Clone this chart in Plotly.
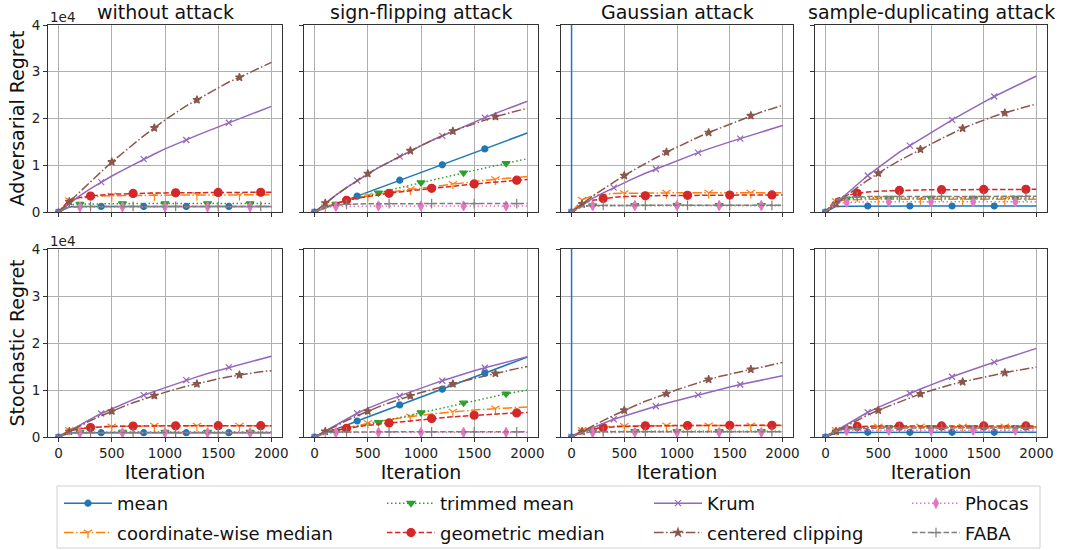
import plotly.graph_objects as go
from plotly.subplots import make_subplots

iterations = list(range(0, 2001, 100))
attacks = ["without attack", "sign-flipping attack", "Gaussian attack", "sample-duplicating attack"]
row_titles = ["Adversarial Regret", "Stochastic Regret"]
x_ticks = [0, 500, 1000, 1500, 2000]
y_ticks = [0, 10000, 20000, 30000, 40000]
y_tick_text = ["0", "1", "2", "3", "4"]
method_names = ["mean", "coordinate-wise median", "trimmed mean", "geometric median",
                "Krum", "centered clipping", "Phocas", "FABA"]

# ---------------- adversarial regret ----------------
adv_none_mean = [0, 1100, 1150, 1180, 1200, 1200, 1200, 1200, 1200, 1200, 1200, 1200, 1200, 1200, 1200, 1200, 1200, 1200, 1200, 1200, 1200]
adv_none_cwm = [0, 2500, 3000, 3250, 3400, 3480, 3530, 3560, 3580, 3600, 3610, 3620, 3630, 3640, 3650, 3650, 3660, 3660, 3670, 3670, 3680]
adv_none_trim = [0, 1500, 1700, 1750, 1780, 1790, 1800, 1800, 1800, 1800, 1800, 1800, 1800, 1800, 1800, 1800, 1800, 1800, 1800, 1800, 1800]
adv_none_geo = [0, 2600, 3100, 3400, 3650, 3800, 3900, 3980, 4020, 4060, 4090, 4110, 4130, 4150, 4160, 4180, 4190, 4200, 4210, 4220, 4230]
adv_none_krum = [0, 1800, 3500, 5000, 6400, 7700, 8900, 10100, 11300, 12400, 13500, 14500, 15400, 16400, 17300, 18200, 19100, 20000, 20900, 21800, 22600]
adv_none_cc = [0, 2200, 4400, 6500, 8600, 10700, 12600, 14500, 16300, 18000, 19700, 21200, 22700, 24000, 25300, 26600, 27800, 28800, 29900, 31000, 32000]
adv_none_phocas = [0, 1000, 1080, 1100, 1100, 1100, 1100, 1100, 1100, 1100, 1100, 1100, 1100, 1100, 1100, 1100, 1100, 1100, 1100, 1100, 1100]
adv_none_faba = [0, 1050, 1150, 1180, 1200, 1200, 1200, 1200, 1200, 1200, 1200, 1200, 1200, 1200, 1200, 1200, 1200, 1200, 1200, 1200, 1200]

adv_sign_mean = [0, 900, 1750, 2600, 3400, 4250, 5100, 5950, 6800, 7650, 8450, 9300, 10100, 10950, 11800, 12650, 13500, 14350, 15200, 16050, 16900]
adv_sign_cwm = [0, 1000, 1800, 2500, 3000, 3450, 3850, 4200, 4550, 4850, 5150, 5450, 5750, 6000, 6250, 6500, 6750, 7000, 7200, 7400, 7600]
adv_sign_trim = [0, 900, 1700, 2400, 3000, 3550, 4100, 4650, 5200, 5750, 6300, 6850, 7400, 7900, 8400, 8900, 9400, 9900, 10400, 10900, 11400]
adv_sign_geo = [0, 1000, 1800, 2500, 2950, 3350, 3700, 4000, 4300, 4560, 4820, 5070, 5300, 5540, 5770, 6000, 6200, 6400, 6600, 6800, 6950]
adv_sign_krum = [0, 1900, 3600, 5200, 6700, 8100, 9500, 10700, 11900, 13100, 14200, 15300, 16300, 17300, 18300, 19300, 20200, 21100, 22000, 22900, 23700]
adv_sign_cc = [0, 1900, 3600, 5200, 6700, 8200, 9500, 10700, 11900, 13100, 14200, 15300, 16300, 17300, 18100, 18900, 19700, 20400, 21000, 21600, 22200]
adv_sign_phocas = [0, 1000, 1200, 1250, 1300, 1300, 1300, 1300, 1300, 1300, 1300, 1300, 1300, 1300, 1300, 1300, 1300, 1300, 1300, 1300, 1300]
adv_sign_faba = [0, 1200, 1500, 1650, 1700, 1750, 1780, 1800, 1800, 1800, 1800, 1800, 1800, 1800, 1800, 1800, 1800, 1800, 1800, 1800, 1800]

adv_gauss_mean = [0, 2.1e7, 4.2e7, 6.3e7, 8.4e7, 1.05e8, 1.26e8, 1.47e8, 1.68e8, 1.89e8, 2.1e8, 2.31e8, 2.52e8, 2.73e8, 2.94e8, 3.15e8, 3.36e8, 3.57e8, 3.78e8, 3.99e8, 4.2e8]
adv_gauss_cwm = [0, 2600, 3500, 3800, 3950, 4000, 4050, 4080, 4100, 4100, 4100, 4100, 4100, 4100, 4100, 4100, 4100, 4100, 4100, 4100, 4100]
adv_gauss_trim = [0, 1200, 1350, 1400, 1400, 1400, 1400, 1400, 1400, 1400, 1400, 1400, 1400, 1400, 1400, 1400, 1400, 1400, 1400, 1400, 1400]
adv_gauss_geo = [0, 1800, 2500, 2900, 3150, 3300, 3400, 3450, 3500, 3520, 3550, 3570, 3580, 3590, 3600, 3610, 3620, 3630, 3640, 3650, 3650]
adv_gauss_krum = [0, 1500, 2900, 4100, 5200, 6300, 7300, 8300, 9200, 10100, 11000, 11850, 12700, 13500, 14300, 15000, 15700, 16400, 17100, 17800, 18500]
adv_gauss_cc = [0, 1700, 3400, 4900, 6400, 7800, 9100, 10400, 11600, 12800, 13900, 15000, 16000, 17000, 17900, 18800, 19700, 20600, 21400, 22100, 22800]
adv_gauss_phocas = [0, 1150, 1350, 1400, 1400, 1400, 1400, 1400, 1400, 1400, 1400, 1400, 1400, 1400, 1400, 1400, 1400, 1400, 1400, 1400, 1400]
adv_gauss_faba = [0, 1200, 1380, 1420, 1430, 1430, 1430, 1430, 1430, 1430, 1430, 1430, 1430, 1430, 1430, 1430, 1430, 1430, 1430, 1430, 1430]

adv_dup_mean = [0, 1200, 1250, 1270, 1280, 1280, 1280, 1280, 1280, 1280, 1280, 1280, 1280, 1280, 1280, 1280, 1280, 1280, 1280, 1280, 1280]
adv_dup_cwm = [0, 2300, 2600, 2700, 2750, 2750, 2750, 2750, 2750, 2750, 2750, 2750, 2750, 2750, 2750, 2750, 2750, 2750, 2750, 2750, 2750]
adv_dup_trim = [0, 2400, 2800, 2950, 3000, 3000, 3000, 3000, 3000, 3000, 3000, 3000, 3000, 3000, 3000, 3000, 3000, 3000, 3000, 3000, 3000]
adv_dup_geo = [0, 2800, 3600, 4000, 4300, 4450, 4550, 4620, 4680, 4720, 4750, 4770, 4790, 4800, 4810, 4820, 4830, 4840, 4840, 4850, 4850]
adv_dup_krum = [0, 2000, 4000, 5900, 7800, 9500, 11200, 12800, 14200, 15600, 17000, 18400, 19700, 21000, 22300, 23500, 24700, 25800, 26900, 28000, 29100]
adv_dup_cc = [0, 1800, 3600, 5200, 6800, 8300, 9700, 11000, 12200, 13400, 14600, 15700, 16800, 17900, 18800, 19700, 20500, 21200, 21900, 22500, 23100]
adv_dup_phocas = [0, 1800, 2050, 2150, 2200, 2200, 2200, 2200, 2200, 2200, 2200, 2200, 2200, 2200, 2200, 2200, 2200, 2200, 2200, 2200, 2200]
adv_dup_faba = [0, 2600, 3100, 3250, 3300, 3320, 3330, 3340, 3350, 3350, 3350, 3350, 3350, 3350, 3350, 3350, 3350, 3350, 3350, 3350, 3350]

# ---------------- stochastic regret ----------------
sto_none_mean = [0, 850, 900, 920, 920, 920, 920, 920, 920, 920, 920, 920, 920, 920, 920, 920, 920, 920, 920, 920, 920]
sto_none_cwm = [0, 1500, 1900, 2100, 2200, 2250, 2300, 2330, 2350, 2370, 2380, 2390, 2400, 2400, 2400, 2400, 2400, 2400, 2400, 2400, 2400]
sto_none_trim = [0, 900, 1000, 1050, 1050, 1050, 1050, 1050, 1050, 1050, 1050, 1050, 1050, 1050, 1050, 1050, 1050, 1050, 1050, 1050, 1050]
sto_none_geo = [0, 1300, 1750, 2000, 2150, 2250, 2300, 2330, 2350, 2360, 2370, 2380, 2390, 2390, 2400, 2400, 2400, 2400, 2400, 2400, 2400]
sto_none_krum = [0, 1300, 2500, 3800, 5000, 6000, 7000, 8000, 8900, 9700, 10500, 11300, 12100, 12800, 13500, 14100, 14800, 15400, 16000, 16600, 17200]
sto_none_cc = [0, 1200, 2400, 3500, 4500, 5500, 6400, 7300, 8100, 8800, 9500, 10200, 10800, 11300, 11900, 12400, 12800, 13200, 13600, 13900, 14100]
sto_none_phocas = [0, 800, 880, 900, 900, 900, 900, 900, 900, 900, 900, 900, 900, 900, 900, 900, 900, 900, 900, 900, 900]
sto_none_faba = [0, 850, 920, 950, 950, 950, 950, 950, 950, 950, 950, 950, 950, 950, 950, 950, 950, 950, 950, 950, 950]

sto_sign_mean = [0, 800, 1650, 2500, 3400, 4250, 5100, 5950, 6830, 7680, 8520, 9350, 10180, 11030, 11880, 12740, 13600, 14450, 15300, 16150, 17000]
sto_sign_cwm = [0, 900, 1500, 2000, 2500, 2950, 3350, 3700, 4050, 4350, 4650, 4900, 5150, 5350, 5550, 5750, 5900, 6050, 6200, 6300, 6400]
sto_sign_trim = [0, 700, 1210, 1750, 2250, 2700, 3130, 3640, 4150, 4680, 5200, 5700, 6230, 6750, 7260, 7750, 8220, 8700, 9180, 9580, 9960]
sto_sign_geo = [0, 900, 1400, 1850, 2200, 2500, 2750, 2990, 3230, 3480, 3700, 3910, 4100, 4300, 4470, 4630, 4780, 4900, 5020, 5120, 5200]
sto_sign_krum = [0, 1300, 2600, 3850, 5050, 6100, 7050, 7950, 8750, 9600, 10400, 11200, 11960, 12700, 13400, 14100, 14730, 15350, 15950, 16500, 17100]
sto_sign_cc = [0, 1200, 2400, 3500, 4500, 5480, 6400, 7250, 8050, 8750, 9450, 10100, 10720, 11320, 11900, 12450, 13000, 13520, 14050, 14550, 15000]
sto_sign_phocas = [0, 850, 950, 1000, 1000, 1000, 1000, 1000, 1000, 1000, 1000, 1000, 1000, 1000, 1000, 1000, 1000, 1000, 1000, 1000, 1000]
sto_sign_faba = [0, 900, 1050, 1100, 1100, 1100, 1100, 1100, 1100, 1100, 1100, 1100, 1100, 1100, 1100, 1100, 1100, 1100, 1100, 1100, 1100]

sto_gauss_mean = [0, 2.0e7, 4.0e7, 6.0e7, 8.0e7, 1.0e8, 1.2e8, 1.4e8, 1.6e8, 1.8e8, 2.0e8, 2.2e8, 2.4e8, 2.6e8, 2.8e8, 3.0e8, 3.2e8, 3.4e8, 3.6e8, 3.8e8, 4.0e8]
sto_gauss_cwm = [0, 1500, 2000, 2200, 2300, 2350, 2380, 2400, 2420, 2430, 2440, 2450, 2450, 2450, 2450, 2450, 2450, 2450, 2450, 2450, 2450]
sto_gauss_trim = [0, 1000, 1150, 1200, 1200, 1200, 1200, 1200, 1200, 1200, 1200, 1200, 1200, 1200, 1200, 1200, 1200, 1200, 1200, 1200, 1200]
sto_gauss_geo = [0, 1300, 1750, 2000, 2150, 2250, 2320, 2370, 2400, 2420, 2440, 2450, 2460, 2470, 2480, 2490, 2490, 2490, 2490, 2490, 2490]
sto_gauss_krum = [0, 1000, 2000, 2900, 3770, 4500, 5200, 5900, 6550, 7200, 7800, 8400, 8970, 9550, 10100, 10650, 11170, 11650, 12100, 12550, 13020]
sto_gauss_cc = [0, 1200, 2400, 3500, 4600, 5690, 6650, 7600, 8450, 9250, 10050, 10800, 11550, 12240, 12850, 13400, 13900, 14380, 14850, 15350, 15870]
sto_gauss_phocas = [0, 850, 950, 1000, 1000, 1000, 1000, 1000, 1000, 1000, 1000, 1000, 1000, 1000, 1000, 1000, 1000, 1000, 1000, 1000, 1000]
sto_gauss_faba = [0, 950, 1080, 1120, 1140, 1140, 1140, 1140, 1140, 1140, 1140, 1140, 1140, 1140, 1140, 1140, 1140, 1140, 1140, 1140, 1140]

sto_dup_mean = [0, 900, 980, 1000, 1000, 1000, 1000, 1000, 1000, 1000, 1000, 1000, 1000, 1000, 1000, 1000, 1000, 1000, 1000, 1000, 1000]
sto_dup_cwm = [0, 1500, 1900, 2050, 2150, 2200, 2200, 2200, 2200, 2200, 2200, 2200, 2200, 2200, 2200, 2200, 2200, 2200, 2200, 2200, 2200]
sto_dup_trim = [0, 1500, 1800, 1950, 2000, 2000, 2000, 2000, 2000, 2000, 2000, 2000, 2000, 2000, 2000, 2000, 2000, 2000, 2000, 2000, 2000]
sto_dup_geo = [0, 1700, 2100, 2250, 2300, 2320, 2330, 2340, 2350, 2350, 2350, 2350, 2350, 2350, 2350, 2350, 2350, 2350, 2350, 2350, 2350]
sto_dup_krum = [0, 1300, 2700, 4000, 5270, 6300, 7300, 8300, 9250, 10200, 11100, 12000, 12810, 13600, 14400, 15200, 15940, 16700, 17400, 18100, 18860]
sto_dup_cc = [0, 1200, 2400, 3600, 4700, 5690, 6600, 7500, 8350, 9180, 9900, 10600, 11200, 11740, 12250, 12750, 13230, 13670, 14100, 14500, 14880]
sto_dup_phocas = [0, 1200, 1350, 1400, 1420, 1420, 1420, 1420, 1420, 1420, 1420, 1420, 1420, 1420, 1420, 1420, 1420, 1420, 1420, 1420, 1420]
sto_dup_faba = [0, 1400, 1700, 1800, 1850, 1880, 1900, 1900, 1900, 1900, 1900, 1900, 1900, 1900, 1900, 1900, 1900, 1900, 1900, 1900, 1900]

panels = [
    [
        [adv_none_mean, adv_none_cwm, adv_none_trim, adv_none_geo, adv_none_krum, adv_none_cc, adv_none_phocas, adv_none_faba],
        [adv_sign_mean, adv_sign_cwm, adv_sign_trim, adv_sign_geo, adv_sign_krum, adv_sign_cc, adv_sign_phocas, adv_sign_faba],
        [adv_gauss_mean, adv_gauss_cwm, adv_gauss_trim, adv_gauss_geo, adv_gauss_krum, adv_gauss_cc, adv_gauss_phocas, adv_gauss_faba],
        [adv_dup_mean, adv_dup_cwm, adv_dup_trim, adv_dup_geo, adv_dup_krum, adv_dup_cc, adv_dup_phocas, adv_dup_faba],
    ],
    [
        [sto_none_mean, sto_none_cwm, sto_none_trim, sto_none_geo, sto_none_krum, sto_none_cc, sto_none_phocas, sto_none_faba],
        [sto_sign_mean, sto_sign_cwm, sto_sign_trim, sto_sign_geo, sto_sign_krum, sto_sign_cc, sto_sign_phocas, sto_sign_faba],
        [sto_gauss_mean, sto_gauss_cwm, sto_gauss_trim, sto_gauss_geo, sto_gauss_krum, sto_gauss_cc, sto_gauss_phocas, sto_gauss_faba],
        [sto_dup_mean, sto_dup_cwm, sto_dup_trim, sto_dup_geo, sto_dup_krum, sto_dup_cc, sto_dup_phocas, sto_dup_faba],
    ],
]

# matplotlib-like dash patterns for linewidth 1.5
DASHED = "5.5px,2.4px"
DOTTED = "1.5px,2.5px"
DASHDOT = "9.6px,2.4px,1.5px,2.4px"

styles = [
    dict(color="#1f77b4", dash="solid", symbol="circle", size=6, off=0, legend="legend"),
    dict(color="#ff7f0e", dash=DASHDOT, symbol="y-down-open", size=7, off=1, legend="legend"),
    dict(color="#2ca02c", dash=DOTTED, symbol="triangle-down", size=7, off=2, legend="legend2"),
    dict(color="#d62728", dash=DASHED, symbol="circle", size=8, off=3, legend="legend2"),
    dict(color="#9467bd", dash="solid", symbol="x-thin-open", size=6, off=0, legend="legend3"),
    dict(color="#8c564b", dash=DASHDOT, symbol="star", size=6, off=1, legend="legend3"),
    dict(color="#e377c2", dash=DOTTED, symbol="diamond-tall", size=7, off=2, legend="legend4"),
    dict(color="#7f7f7f", dash=DASHED, symbol="cross-thin-open", size=7, off=3, legend="legend4"),
]

FONT = "DejaVu Sans"
W, H = 1067, 550
ML, MR, MT, MB = 48, 20, 25, 113
PW, PH = W - ML - MR, H - MT - MB

fig = make_subplots(rows=2, cols=4)

for r in range(2):
    for c in range(4):
        for k, st in enumerate(styles):
            sel = list(range(st["off"], len(iterations) - 1, 4))
            fig.add_trace(go.Scatter(
                x=iterations, y=panels[r][c][k], mode="lines+markers",
                name=method_names[k], legendgroup=method_names[k],
                line=dict(color=st["color"], dash=st["dash"], width=1.5),
                marker=dict(color=st["color"], symbol=st["symbol"], size=st["size"],
                            line=dict(color=st["color"], width=1.2)),
                selectedpoints=sel,
                selected=dict(marker=dict(opacity=1)),
                unselected=dict(marker=dict(opacity=0)),
                legend=st["legend"],
                showlegend=(r == 0 and c == 0),
            ), row=r + 1, col=c + 1)

col_px = [(48, 282), (304, 538), (561, 793), (815, 1047)]
row_px = [(25, 212), (249, 437)]

for r in range(2):
    for c in range(4):
        x0, x1 = col_px[c]
        y0, y1 = row_px[r]
        fig.update_xaxes(
            domain=[(x0 - ML) / PW, (x1 - ML) / PW], range=[-100, 2100],
            tickvals=x_ticks, showticklabels=(r == 1),
            showgrid=True, gridcolor="#b0b0b0", gridwidth=0.8,
            showline=True, mirror=True, linecolor="#333333", linewidth=1,
            ticks="outside", ticklen=4, tickcolor="#333333", zeroline=False,
            tickfont=dict(family=FONT, size=13.5, color="#222"),
            title=dict(text="Iteration" if r == 1 else "", font=dict(family=FONT, size=19, color="#111"), standoff=0),
            row=r + 1, col=c + 1)
        fig.update_yaxes(
            domain=[(MT + PH - y1) / PH, (MT + PH - y0) / PH], range=[0, 40000],
            tickvals=y_ticks, ticktext=y_tick_text, showticklabels=(c == 0),
            showgrid=True, gridcolor="#b0b0b0", gridwidth=0.8,
            showline=True, mirror=True, linecolor="#333333", linewidth=1,
            ticks="outside", ticklen=4, tickcolor="#333333", zeroline=False,
            tickfont=dict(family=FONT, size=13.5, color="#222"),
            title=dict(text=row_titles[r] if c == 0 else "", font=dict(family=FONT, size=19, color="#111"), standoff=2),
            row=r + 1, col=c + 1)

annotations = []
for c in range(4):
    xa = "x" if c == 0 else f"x{c + 1}"
    annotations.append(dict(text=attacks[c], xref=f"{xa} domain", yref="paper",
                            x=0.5, y=1, yanchor="bottom", xanchor="center", yshift=0,
                            showarrow=False, font=dict(family=FONT, size=19, color="#111")))
for r in range(2):
    xa = "x" if r == 0 else "x5"
    ya = "y" if r == 0 else "y5"
    annotations.append(dict(text="1e4", xref=f"{xa} domain", yref=f"{ya} domain",
                            x=0, y=1, xanchor="left", yanchor="bottom", yshift=-2,
                            showarrow=False, font=dict(family=FONT, size=13.5, color="#222")))

legend_cols_px = [59, 382, 649, 907]
legend_common = dict(orientation="v", xanchor="left", yanchor="top",
                     bgcolor="rgba(0,0,0,0)", borderwidth=0, tracegroupgap=3,
                     itemwidth=48, font=dict(family=FONT, size=18, color="#111"))
legend_y = (MT + PH - 485) / PH
fig.update_layout(
    width=W, height=H, margin=dict(l=ML, r=MR, t=MT, b=MB, autoexpand=False),
    plot_bgcolor="white", paper_bgcolor="white",
    font=dict(family=FONT, color="#111"),
    annotations=annotations,
    legend=dict(x=(legend_cols_px[0] - ML) / PW, y=legend_y, **legend_common),
    legend2=dict(x=(legend_cols_px[1] - ML) / PW, y=legend_y, **legend_common),
    legend3=dict(x=(legend_cols_px[2] - ML) / PW, y=legend_y, **legend_common),
    legend4=dict(x=(legend_cols_px[3] - ML) / PW, y=legend_y, **legend_common),
    shapes=[dict(type="rect", xref="paper", yref="paper",
                 x0=(57 - ML) / PW, x1=(1040 - ML) / PW,
                 y0=(MT + PH - 548) / PH, y1=(MT + PH - 486) / PH,
                 line=dict(color="#d0d0d0", width=1), fillcolor="rgba(0,0,0,0)")],
)

fig.write_html("out.html", config={"displayModeBar": False},
               post_script="document.body.style.margin='0px';")
